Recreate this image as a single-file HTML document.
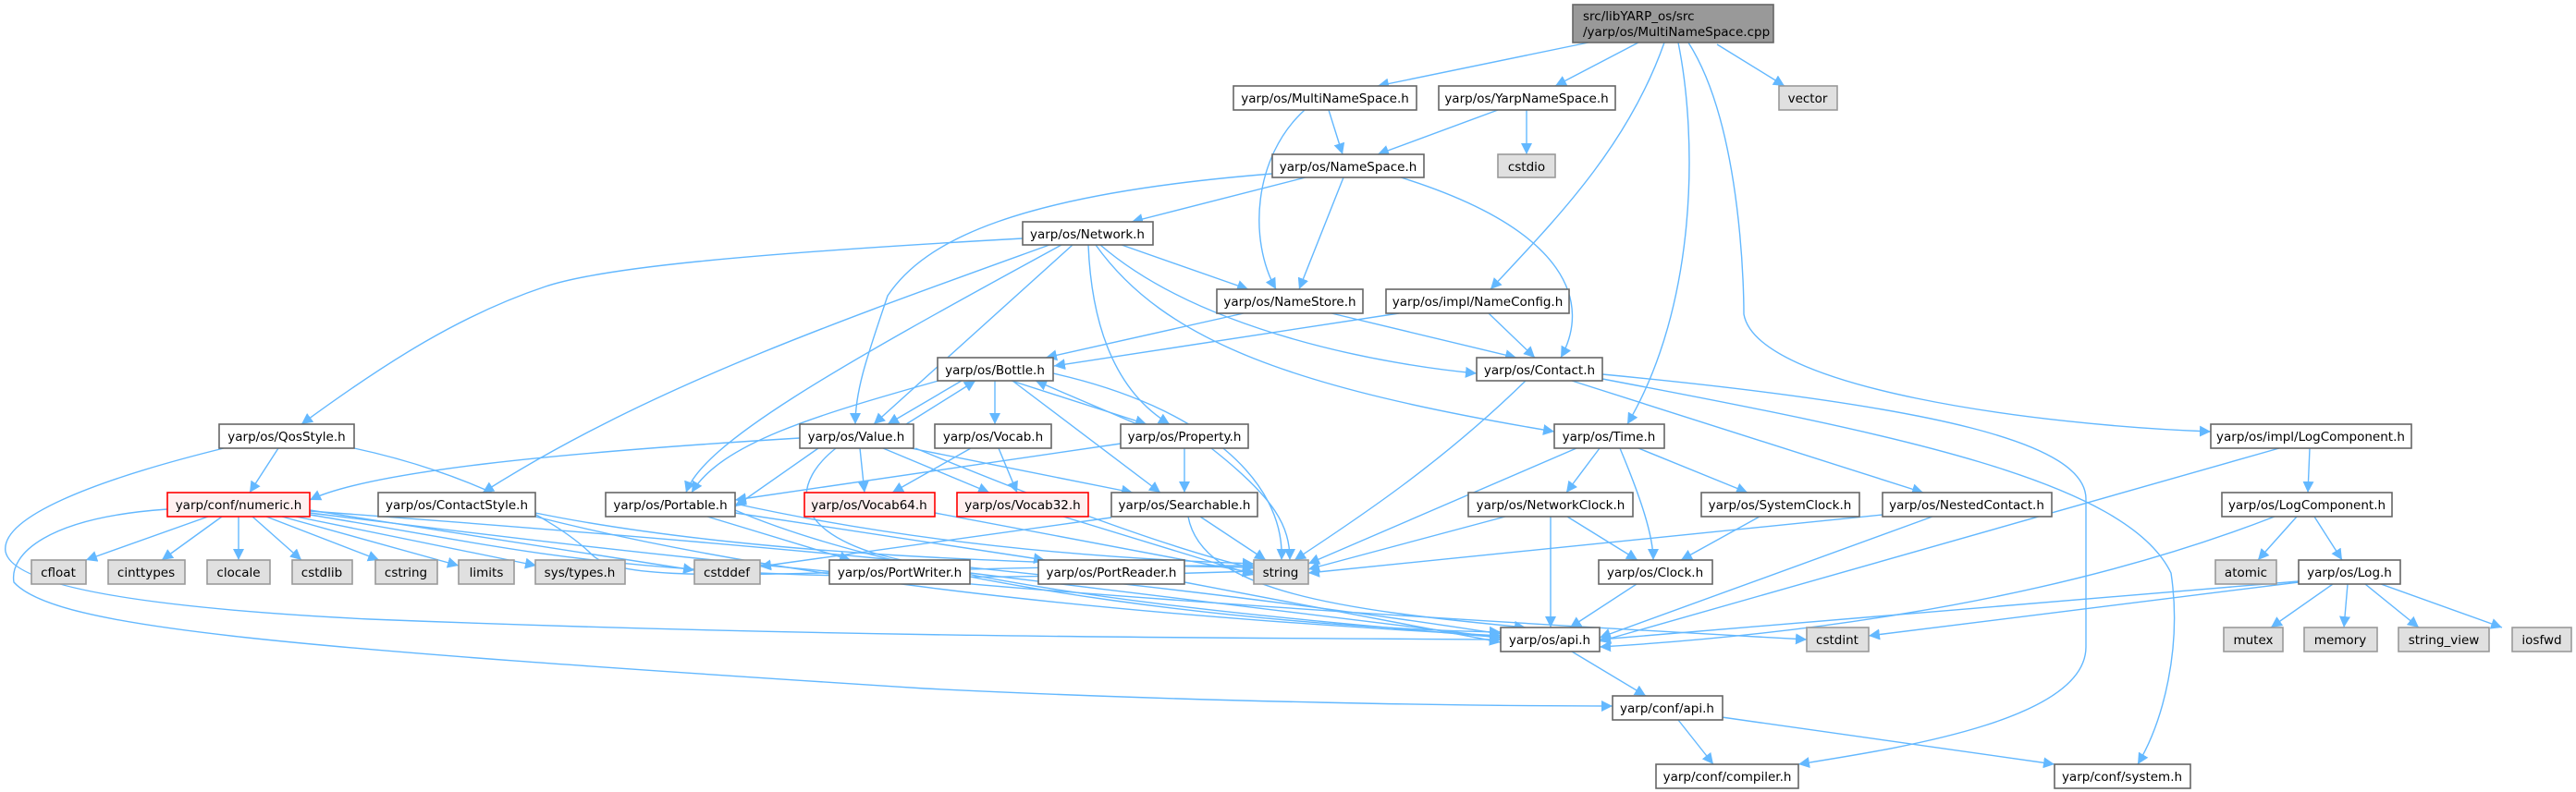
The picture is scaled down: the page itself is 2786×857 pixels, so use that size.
<!DOCTYPE html>
<html><head><meta charset="utf-8"><style>
html,body{margin:0;padding:0;background:#fff;}
svg{display:block;}
text{font-family:"DejaVu Sans","Liberation Sans",sans-serif;font-size:13.5px;fill:#000;}
.e{fill:none;stroke:#63b8ff;stroke-width:1.4;}
.n{fill:#fff;stroke:#666;stroke-width:1.6;}
.g{fill:#e0e0e0;stroke:#999;stroke-width:1.6;}
.r{fill:#fff0f0;stroke:#ff0000;stroke-width:1.6;}
</style></head><body>
<svg width="2786" height="857" viewBox="0 0 2786 857" xmlns="http://www.w3.org/2000/svg">
<defs><marker id="a" viewBox="0 0 10 10" refX="10" refY="5" markerWidth="12" markerHeight="12" markerUnits="userSpaceOnUse" orient="auto"><path d="M0,0 L10,5 L0,10 z" fill="#63b8ff"/></marker></defs>
<g marker-end="url(#a)">
<!-- root -->
<path class="e" d="M1718,46 L1490,93"/>
<path class="e" d="M1772,46 L1682,93"/>
<path class="e" d="M1857,48 L1930,93"/>
<path class="e" d="M1800,46 C1760,160 1680,240 1612,313"/>
<path class="e" d="M1815,46 C1836,150 1836,330 1760,459"/>
<path class="e" d="M1826,46 C1886,140 1886,330 1886,340 C1900,420 2200,460 2391,467"/>
<!-- MultiNameSpace / YarpNameSpace -->
<path class="e" d="M1437,119 L1452,167"/>
<path class="e" d="M1411,119 C1355,170 1350,260 1380,313"/>
<path class="e" d="M1620,119 L1490,167"/>
<path class="e" d="M1651,119 L1651,167"/>
<!-- NameSpace -->
<path class="e" d="M1412,192 L1224,240"/>
<path class="e" d="M1453,192 L1405,313"/>
<path class="e" d="M1515,192 C1700,250 1720,330 1688,387"/>
<path class="e" d="M1376,188 C1100,210 1000,260 960,320 C940,380 925,420 925,459"/>
<!-- Network -->
<path class="e" d="M1106,258 C800,275 650,290 590,310 C500,340 420,390 326,459"/>
<path class="e" d="M1135,265 C900,350 700,420 522,533"/>
<path class="e" d="M1148,265 C900,400 760,480 742,533"/>
<path class="e" d="M1160,265 L945,459"/>
<path class="e" d="M1177,265 C1180,340 1200,420 1265,459"/>
<path class="e" d="M1213,265 L1350,313"/>
<path class="e" d="M1190,265 C1300,360 1500,395 1597,404"/>
<path class="e" d="M1185,265 C1260,370 1400,420 1681,467"/>
<!-- NameStore / NameConfig -->
<path class="e" d="M1345,339 L1131,387"/>
<path class="e" d="M1440,339 L1640,387"/>
<path class="e" d="M1513,339 L1140,396"/>
<path class="e" d="M1610,339 L1660,387"/>
<!-- Bottle -->
<path class="e" d="M1040,412 L960,459"/>
<path class="e" d="M1076,412 L1076,459"/>
<path class="e" d="M1094,412 L1240,459"/>
<path class="e" d="M1095,412 L1255,533"/>
<path class="e" d="M1139,404 C1300,440 1390,520 1386,606"/>
<path class="e" d="M1015,412 C880,450 780,480 748,533"/>
<!-- Property -->
<path class="e" d="M1230,459 L1120,412"/>
<path class="e" d="M1281,485 L1281,533"/>
<path class="e" d="M1212,480 L795,541"/>
<path class="e" d="M1310,485 C1380,540 1395,570 1395,606"/>
<!-- Value -->
<path class="e" d="M980,459 L1055,412"/>
<path class="e" d="M865,474 C600,490 400,510 335,541"/>
<path class="e" d="M930,485 L935,533"/>
<path class="e" d="M955,485 L1070,533"/>
<path class="e" d="M985,485 L1225,533"/>
<path class="e" d="M885,485 L795,548"/>
<path class="e" d="M990,485 C1100,530 1250,590 1356,615"/>
<path class="e" d="M904,485 C860,520 850,570 950,600 C1150,650 1400,670 1623,690"/>
<!-- Vocab -->
<path class="e" d="M1050,485 L965,533"/>
<path class="e" d="M1080,485 L1100,533"/>
<path class="e" d="M1011,555 L1356,620"/>
<path class="e" d="M1150,559 L1356,622"/>
<!-- Searchable -->
<path class="e" d="M1298,559 L1369,606"/>
<path class="e" d="M1202,560 L822,613"/>
<path class="e" d="M1285,559 C1300,640 1450,660 1650,679"/>
<!-- QosStyle -->
<path class="e" d="M301,485 L270,533"/>
<path class="e" d="M383,485 C500,510 600,560 640,600 C680,640 900,612 1356,612"/>
<path class="e" d="M242,485 C100,520 0,560 6,597 C15,640 200,660 400,670 C900,690 1300,690 1623,692"/>
<path class="e" d="M181,551 C50,560 10,600 15,630 C60,680 300,700 1000,745 C1300,760 1600,764 1744,764"/>
<!-- numeric -->
<path class="e" d="M225,559 L93,606"/>
<path class="e" d="M240,559 L175,606"/>
<path class="e" d="M258,559 L258,606"/>
<path class="e" d="M273,559 L326,606"/>
<path class="e" d="M288,559 L410,606"/>
<path class="e" d="M305,559 L496,612"/>
<path class="e" d="M320,559 L580,612"/>
<path class="e" d="M335,552 L751,617"/>
<path class="e" d="M335,555 C700,600 1000,640 1954,692"/>
<path class="e" d="M335,557 C600,600 700,640 1356,618"/>
<path class="e" d="M335,553 C700,580 1200,620 1623,686"/>
<!-- ContactStyle -->
<path class="e" d="M579,555 C800,600 1100,610 1356,614"/>
<path class="e" d="M579,559 C900,640 1300,670 1623,688"/>
<!-- Portable -->
<path class="e" d="M765,559 L920,606"/>
<path class="e" d="M795,555 L1130,606"/>
<path class="e" d="M795,545 C1000,590 1200,605 1356,610"/>
<path class="e" d="M795,552 C1000,640 1400,680 1623,684"/>
<path class="e" d="M1049,620 L1623,690"/>
<path class="e" d="M1281,630 L1623,695"/>
<!-- Time -->
<path class="e" d="M1705,485 L1415,610"/>
<path class="e" d="M1730,485 L1694,533"/>
<path class="e" d="M1752,485 C1775,540 1788,580 1788,606"/>
<path class="e" d="M1772,485 L1890,533"/>
<!-- NetworkClock etc -->
<path class="e" d="M1628,559 L1415,616"/>
<path class="e" d="M1695,559 L1771,606"/>
<path class="e" d="M1677,559 L1677,679"/>
<path class="e" d="M1903,559 L1818,606"/>
<path class="e" d="M2036,557 L1415,620"/>
<path class="e" d="M2090,559 L1730,690"/>
<path class="e" d="M1770,632 L1698,679"/>
<!-- Contact -->
<path class="e" d="M1650,412 C1560,500 1470,560 1400,606"/>
<path class="e" d="M1700,412 L2080,533"/>
<path class="e" d="M1733,405 C2100,440 2256,480 2256,540 L2256,700 C2256,780 2050,810 1945,827"/>
<path class="e" d="M1733,410 C2050,470 2300,520 2348,620 C2360,700 2340,780 2312,827"/>
<!-- LogComponent -->
<path class="e" d="M2498,485 L2496,533"/>
<path class="e" d="M2465,485 L1730,694"/>
<path class="e" d="M2484,559 L2442,606"/>
<path class="e" d="M2503,559 L2533,606"/>
<path class="e" d="M2460,559 C2200,660 1900,690 1730,700"/>
<path class="e" d="M2523,632 L2456,679"/>
<path class="e" d="M2539,632 L2535,679"/>
<path class="e" d="M2558,632 L2616,679"/>
<path class="e" d="M2575,632 L2706,679"/>
<path class="e" d="M2486,629 L1730,692"/>
<path class="e" d="M2486,630 L2021,688"/>
<!-- api -->
<path class="e" d="M1700,705 L1780,753"/>
<path class="e" d="M1815,779 L1853,827"/>
<path class="e" d="M1862,776 L2222,827"/>
</g>
<!-- nodes -->
<rect class="n" x="1701" y="5" width="217" height="41" style="fill:#999"/>
<text x="1712" y="22">src/libYARP_os/src</text><text x="1712" y="39">/yarp/os/MultiNameSpace.cpp</text>
<g text-anchor="middle">
<rect class="n" x="1334" y="93" width="198" height="26"/><text x="1433" y="111">yarp/os/MultiNameSpace.h</text>
<rect class="n" x="1556" y="93" width="191" height="26"/><text x="1651" y="111">yarp/os/YarpNameSpace.h</text>
<rect class="g" x="1924" y="93" width="63" height="26"/><text x="1955" y="111">vector</text>
<rect class="g" x="1620" y="167" width="62" height="25"/><text x="1651" y="185">cstdio</text>
<rect class="n" x="1376" y="167" width="164" height="25"/><text x="1458" y="185">yarp/os/NameSpace.h</text>
<rect class="n" x="1106" y="240" width="141" height="25"/><text x="1176" y="258">yarp/os/Network.h</text>
<rect class="n" x="1316" y="313" width="158" height="26"/><text x="1395" y="331">yarp/os/NameStore.h</text>
<rect class="n" x="1499" y="313" width="198" height="26"/><text x="1598" y="331">yarp/os/impl/NameConfig.h</text>
<rect class="n" x="1014" y="387" width="125" height="25"/><text x="1076" y="405">yarp/os/Bottle.h</text>
<rect class="n" x="1597" y="387" width="136" height="25"/><text x="1665" y="405">yarp/os/Contact.h</text>
<rect class="n" x="237" y="459" width="146" height="26"/><text x="310" y="477">yarp/os/QosStyle.h</text>
<rect class="n" x="865" y="459" width="123" height="26"/><text x="926" y="477">yarp/os/Value.h</text>
<rect class="n" x="1011" y="459" width="126" height="26"/><text x="1074" y="477">yarp/os/Vocab.h</text>
<rect class="n" x="1212" y="459" width="138" height="26"/><text x="1281" y="477">yarp/os/Property.h</text>
<rect class="n" x="1681" y="459" width="119" height="26"/><text x="1740" y="477">yarp/os/Time.h</text>
<rect class="n" x="2391" y="459" width="217" height="26"/><text x="2499" y="477">yarp/os/impl/LogComponent.h</text>
<rect class="r" x="181" y="533" width="154" height="26"/><text x="258" y="551">yarp/conf/numeric.h</text>
<rect class="n" x="409" y="533" width="170" height="26"/><text x="494" y="551">yarp/os/ContactStyle.h</text>
<rect class="n" x="655" y="533" width="140" height="26"/><text x="725" y="551">yarp/os/Portable.h</text>
<rect class="r" x="870" y="533" width="141" height="26"/><text x="940" y="551">yarp/os/Vocab64.h</text>
<rect class="r" x="1035" y="533" width="142" height="26"/><text x="1106" y="551">yarp/os/Vocab32.h</text>
<rect class="n" x="1202" y="533" width="158" height="26"/><text x="1281" y="551">yarp/os/Searchable.h</text>
<rect class="n" x="1588" y="533" width="178" height="26"/><text x="1677" y="551">yarp/os/NetworkClock.h</text>
<rect class="n" x="1840" y="533" width="171" height="26"/><text x="1925" y="551">yarp/os/SystemClock.h</text>
<rect class="n" x="2036" y="533" width="183" height="26"/><text x="2127" y="551">yarp/os/NestedContact.h</text>
<rect class="n" x="2403" y="533" width="184" height="26"/><text x="2495" y="551">yarp/os/LogComponent.h</text>
<rect class="g" x="34" y="606" width="59" height="26"/><text x="63" y="624">cfloat</text>
<rect class="g" x="117" y="606" width="83" height="26"/><text x="158" y="624">cinttypes</text>
<rect class="g" x="224" y="606" width="68" height="26"/><text x="258" y="624">clocale</text>
<rect class="g" x="316" y="606" width="65" height="26"/><text x="348" y="624">cstdlib</text>
<rect class="g" x="406" y="606" width="67" height="26"/><text x="439" y="624">cstring</text>
<rect class="g" x="496" y="606" width="60" height="26"/><text x="526" y="624">limits</text>
<rect class="g" x="579" y="606" width="97" height="26"/><text x="627" y="624">sys/types.h</text>
<rect class="g" x="751" y="606" width="71" height="26"/><text x="786" y="624">cstddef</text>
<rect class="n" x="897" y="606" width="152" height="26"/><text x="973" y="624">yarp/os/PortWriter.h</text>
<rect class="n" x="1123" y="606" width="158" height="26"/><text x="1202" y="624">yarp/os/PortReader.h</text>
<rect class="g" x="1356" y="606" width="59" height="26"/><text x="1385" y="624">string</text>
<rect class="n" x="1729" y="606" width="123" height="26"/><text x="1790" y="624">yarp/os/Clock.h</text>
<rect class="g" x="2396" y="606" width="66" height="26"/><text x="2429" y="624">atomic</text>
<rect class="n" x="2486" y="606" width="110" height="26"/><text x="2541" y="624">yarp/os/Log.h</text>
<rect class="n" x="1623" y="679" width="107" height="26"/><text x="1676" y="697">yarp/os/api.h</text>
<rect class="g" x="1954" y="679" width="67" height="26"/><text x="1987" y="697">cstdint</text>
<rect class="g" x="2405" y="679" width="64" height="26"/><text x="2437" y="697">mutex</text>
<rect class="g" x="2492" y="679" width="79" height="26"/><text x="2531" y="697">memory</text>
<rect class="g" x="2594" y="679" width="98" height="26"/><text x="2643" y="697">string_view</text>
<rect class="g" x="2717" y="679" width="64" height="26"/><text x="2749" y="697">iosfwd</text>
<rect class="n" x="1744" y="753" width="119" height="26"/><text x="1803" y="771">yarp/conf/api.h</text>
<rect class="n" x="1791" y="827" width="154" height="26"/><text x="1868" y="845">yarp/conf/compiler.h</text>
<rect class="n" x="2222" y="827" width="147" height="26"/><text x="2295" y="845">yarp/conf/system.h</text>
</g>
</svg>
</body></html>
